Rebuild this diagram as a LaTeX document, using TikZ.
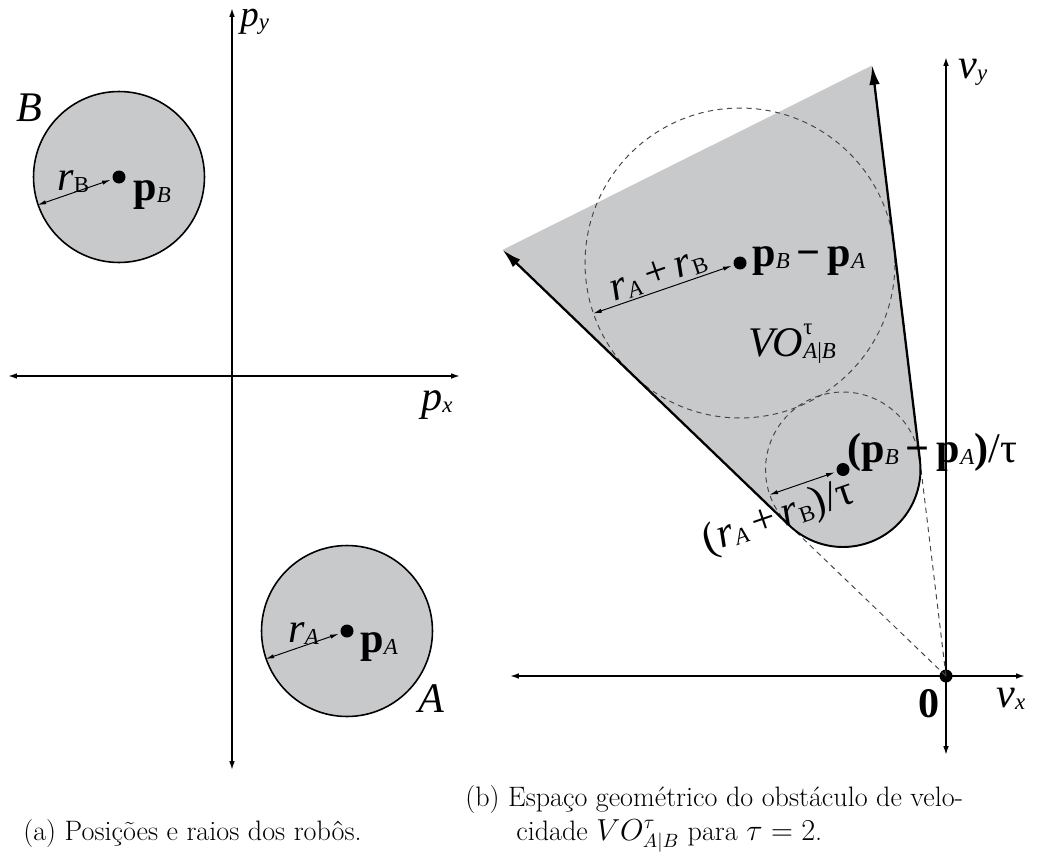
\documentclass[tikz,border=0pt]{standalone}
\usepackage{fontspec}
\newfontfamily\tnr{Liberation Serif}
\usetikzlibrary{arrows.meta}
\definecolor{figgray}{RGB}{200,201,203}
\definecolor{dashgray}{RGB}{70,70,70}
\newcommand{\bigf}{\fontsize{24}{26}\selectfont}
\newcommand{\midf}{\fontsize{21}{23}\selectfont}
\newcommand{\sbs}[1]{\raisebox{-1.5pt}{\fontsize{13}{14}\selectfont #1}}
\newcommand{\capf}{\fontsize{16}{19.2}\selectfont}
\begin{document}
\begin{tikzpicture}[x=0.02cm,y=-0.02cm,
  axis/.style={line width=0.9pt, {Latex[length=5pt,width=3.2pt]}-{Latex[length=5pt,width=3.2pt]}},
  cone/.style={line width=1.3pt, -{Latex[length=11pt,width=6pt]}},
  radarrow/.style={line width=0.55pt, {Latex[length=5pt,width=2.4pt]}-{Latex[length=5pt,width=2.4pt]}, shorten >=1pt},
  robot/.style={circle, draw, line width=0.9pt, fill=figgray, inner sep=0, minimum size=3.42cm},
  dcircle/.style={circle, draw=dashgray, line width=0.55pt, dash pattern=on 3pt off 2.5pt, inner sep=0},
  dline/.style={draw=dashgray, line width=0.55pt, dash pattern=on 3pt off 2.5pt},
  dot/.style={circle, fill=black, inner sep=0, minimum size=0.26cm},
  lab/.style={inner sep=0, anchor=base west, font=\tnr\bigf},
  capt/.style={inner sep=0, anchor=base west, font=\capf}
]
\useasboundingbox (0,0) rectangle (1038,852);

% ---------------- (a) ----------------
\coordinate (pxL) at (8,376);
\coordinate (pxR) at (460,376);
\coordinate (pyB) at (232,770);
\coordinate (pyT) at (232,8);
\draw[axis] (pxL) -- (pxR);
\draw[axis] (pyB) -- (pyT);

\node[robot] (robB) at (119,177) {};
\node[robot] (robA) at (347,631) {};
\node[dot] (dotB) at (119,177) {};
\node[dot] (dotA) at (347,631) {};
\draw[radarrow] (robB.199) -- (dotB);
\draw[radarrow] (robA.199) -- (dotA);

\node[lab, font=\tnr\midf, text height=9pt] (lpy) at (240,27) {\textit{p}\sbs{\textit{y}}};
\node[lab] (lpx) at (421,410) {\textit{p}\sbs{\textit{x}}};
\node[lab] (lB) at (16,121) {\textit{B}};
\node[lab] (lrB) at (57,190) {\textit{r}\sbs{B}};
\node[lab] (lpB) at (133,200) {\textbf{p}\sbs{\textit{B}}};
\node[lab] (lA) at (418,712) {\textit{A}};
\node[lab] (lrA) at (288,642) {\textit{r}\sbs{\textit{A}}};
\node[lab] (lpA) at (360,652) {\textbf{p}\sbs{\textit{A}}};

% ---------------- (b) ----------------
\coordinate (T1) at (789.3,525.4);
\coordinate (T2) at (919.9,460.2);
\coordinate (tipL) at (502.6,249.9);
\coordinate (tipR) at (872.2,65.4);

\fill[figgray] (T1) -- (tipL) -- (tipR) -- (T2)
  arc[start angle=-6.89, end angle=133.87, radius=77.5] -- cycle;

\node[dcircle, minimum size=6.2cm] (bigc) at (740,263) {};
\node[dcircle, minimum size=3.1cm] (smallc) at (843,469.5) {};

\coordinate (vxL) at (510,676);
\coordinate (vxR) at (1025,676);
\coordinate (vyB) at (946,755);
\coordinate (vyT) at (946,57);
\draw[axis] (vxL) -- (vxR);
\draw[axis] (vyB) -- (vyT);

\node[dot] (O) at (946,676) {};
\node[dot] (dotC) at (740,263) {};
\node[dot] (dotS) at (843,469.5) {};

\draw[dline] (O.center) -- (T1);
\draw[dline] (O.center) -- (T2);

\draw[cone] (T1) -- (tipL);
\draw[cone] (T2) -- (tipR);
\draw[line width=1.1pt] (T2) arc[start angle=-6.89, end angle=133.87, radius=77.5];

\draw[radarrow] (bigc.199) -- node[sloped, above=1pt, font=\tnr\bigf, inner sep=0] (lsum)
  {\textit{r}\sbs{\textit{A}}\,+\,\textit{r}\sbs{B}} (dotC);
\draw[radarrow] (smallc.199) -- node[pos=0.02, sloped, below=3pt, font=\tnr\bigf, inner sep=0] (lsumt)
  {(\textit{r}\sbs{\textit{A}}\,+\,\textit{r}\sbs{B})/τ} (dotS);

\node[lab] (lvy) at (958,78) {\textit{v}\sbs{\textit{y}}};
\node[lab] (lvx) at (996,707) {\textit{v}\sbs{\textit{x}}};
\node[lab] (l0) at (918,717) {\textbf{0}};
\node[lab] (lpBA) at (752,266) {\textbf{p}\sbs{\textit{B}}\,\textbf{−}\,\textbf{p}\sbs{\textit{A}}};
\node[lab] (lpBAt) at (847,462) {\textbf{(p}\sbs{\textit{B}}\,\textbf{−}\,\textbf{p}\sbs{\textit{A}}\textbf{)}/τ};
\node[lab] (lVO) at (748,356) {\textit{VO}\rlap{\raisebox{12pt}{\fontsize{13}{14}\selectfont τ}}\sbs{\textit{A}|\textit{B}}};

% ---------------- captions ----------------
\node[capt] (capa) at (23,840) {(a) Posições e raios dos robôs.};
\node[capt] (capb1) at (465,806) {(b) Espaço geométrico do obstáculo de velo-};
\node[capt] (capb2) at (516,840) {cidade $VO^{\tau}_{A|B}$ para $\tau = 2$.};
\end{tikzpicture}
\end{document}
